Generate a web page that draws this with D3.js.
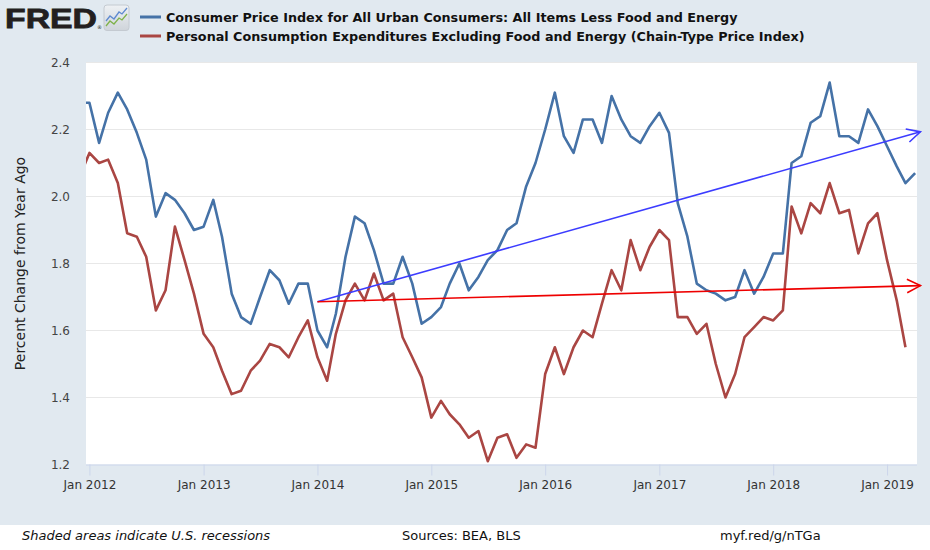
<!DOCTYPE html>
<html><head><meta charset="utf-8">
<script src="https://cdn.jsdelivr.net/npm/d3@7"></script>
<style>
html,body{margin:0;padding:0;background:#fff;}
svg{display:block;font-family:"DejaVu Sans",sans-serif;}
</style></head>
<body>
<svg id="c" width="930" height="550"></svg>
<script>
// ---- data (monthly, first value = Dec 2011) ----
const startMonth = "2011-12-01";
const seriesNames = [
  "Consumer Price Index for All Urban Consumers: All Items Less Food and Energy",
  "Personal Consumption Expenditures Excluding Food and Energy (Chain-Type Price Index)"
];
const cpiValues = [2.28,
  2.28,2.16,2.25,2.31,2.26,2.19,2.11,1.94,2.01,1.99,1.95,1.90,
  1.91,1.99,1.88,1.71,1.64,1.62,1.70,1.78,1.75,1.68,1.74,1.74,
  1.60,1.55,1.65,1.82,1.94,1.92,1.84,1.74,1.74,1.82,1.74,1.62,
  1.64,1.67,1.74,1.80,1.72,1.76,1.81,1.84,1.90,1.92,2.03,2.10,
  2.20,2.31,2.18,2.13,2.23,2.23,2.16,2.30,2.23,2.18,2.16,2.21,
  2.25,2.19,1.98,1.88,1.74,1.72,1.71,1.69,1.70,1.78,1.71,1.76,
  1.83,1.83,2.10,2.12,2.22,2.24,2.34,2.18,2.18,2.16,2.26,2.21,
  2.15,2.09,2.04,2.07];
const pceValues = [2.06,
  2.13,2.10,2.11,2.04,1.89,1.88,1.82,1.66,1.72,1.91,1.81,1.71,
  1.59,1.55,1.48,1.41,1.42,1.48,1.51,1.56,1.55,1.52,1.58,1.63,
  1.52,1.45,1.59,1.69,1.74,1.69,1.77,1.69,1.71,1.58,1.52,1.46,
  1.34,1.39,1.35,1.32,1.28,1.30,1.21,1.28,1.29,1.22,1.26,1.25,
  1.47,1.55,1.47,1.55,1.60,1.58,1.68,1.78,1.72,1.87,1.78,1.85,
  1.90,1.87,1.64,1.64,1.59,1.62,1.50,1.40,1.47,1.58,1.61,1.64,
  1.63,1.66,1.97,1.89,1.98,1.95,2.04,1.95,1.96,1.83,1.92,1.95,
  1.81,1.69,1.55];
// annotation trend arrows: [start date, start value, end date, end value]
const cpiTrend = ["2014-01-01", 1.686, "2019-04-18", 2.193];
const pceTrend = ["2014-01-01", 1.686, "2019-04-18", 1.734];
const yTicks = [1.2,1.4,1.6,1.8,2.0,2.2,2.4];
const xTickYears = [2012,2013,2014,2015,2016,2017,2018,2019];
const yAxisTitle = "Percent Change from Year Ago";
const footerTexts = ["Shaded areas indicate U.S. recessions","Sources: BEA, BLS","myf.red/g/nTGa"];

// ---- drawing ----
const svg = d3.select("#c");
const W = 930, H = 550;
const pl = 86, pr = 917, pt = 62.5, pb = 464.5;
const parse = d3.utcParse("%Y-%m-%d");
const m0 = parse(startMonth);
const toSeries = vals => vals.map((v,i)=>({d:d3.utcMonth.offset(m0,i), v}));
const cpi = toSeries(cpiValues), pce = toSeries(pceValues);

const x = d3.scaleUtc().domain([Date.UTC(2011,11,21), Date.UTC(2019,3,7)]).range([pl,pr]);
const y = d3.scaleLinear().domain([1.2,2.4]).range([pb,pt]);

// backgrounds
svg.append("rect").attr("width",W).attr("height",525).attr("fill","#e1e9f0");
svg.append("rect").attr("y",525).attr("width",W).attr("height",25).attr("fill","#ffffff");
svg.append("rect").attr("x",pl).attr("y",pt).attr("width",pr-pl).attr("height",pb-pt).attr("fill","#ffffff");

// grid
svg.append("g").selectAll("line").data(yTicks.filter(t=>t>1.2)).join("line")
  .attr("x1",pl).attr("x2",pr).attr("y1",d=>y(d)).attr("y2",d=>y(d))
  .attr("stroke","#e8e8e8").attr("stroke-width",1);

// x axis
const xAxis = d3.axisBottom(x)
  .tickValues(xTickYears.map(yr=>new Date(Date.UTC(yr,0,1))))
  .tickFormat(d3.utcFormat("Jan %Y")).tickSize(11).tickPadding(5);
const gx = svg.append("g").attr("transform",`translate(0,${pb})`).call(xAxis);
gx.select(".domain").attr("stroke","#ccd6eb").attr("d",`M${pl},0.5H${pr}`);
gx.selectAll(".tick line").attr("stroke","#ccd6eb");
gx.selectAll("text").attr("fill","#333").attr("font-size","12px").attr("font-family","DejaVu Sans");

// y axis labels
const yAxis = d3.axisLeft(y).tickValues(yTicks).tickFormat(d3.format(".1f")).tickSize(0).tickPadding(16);
const gy = svg.append("g").attr("transform",`translate(${pl},0)`).call(yAxis);
gy.select(".domain").remove();
gy.selectAll("text").attr("fill","#444").attr("font-size","12px").attr("font-family","DejaVu Sans");

svg.append("text").attr("transform",`translate(25,${(pt+pb)/2}) rotate(-90)`)
  .attr("text-anchor","middle").attr("font-size","14px").attr("fill","#222").text(yAxisTitle);

// clip
svg.append("clipPath").attr("id","clip").append("rect")
  .attr("x",pl).attr("y",pt-5).attr("width",pr-pl).attr("height",pb-pt+10);

const line = d3.line().x(d=>x(d.d)).y(d=>y(d.v));
const g = svg.append("g").attr("clip-path","url(#clip)");
g.append("path").datum(pce).attr("d",line).attr("fill","none").attr("stroke","#aa4643").attr("stroke-width",2.6).attr("stroke-linejoin","round");
g.append("path").datum(cpi).attr("d",line).attr("fill","none").attr("stroke","#4572a7").attr("stroke-width",2.6).attr("stroke-linejoin","round");

// trend arrows
function arrow(tr, color){
  const x1=x(parse(tr[0])), y1=y(tr[1]), x2=x(parse(tr[2])), y2=y(tr[3]);
  svg.append("line").attr("x1",x1).attr("y1",y1).attr("x2",x2).attr("y2",y2)
    .attr("stroke",color).attr("stroke-width",1.6);
  const a = Math.atan2(y2-y1,x2-x1), L=15, h=0.47;
  const p = [[x2-L*Math.cos(a-h), y2-L*Math.sin(a-h)],[x2,y2],[x2-L*Math.cos(a+h), y2-L*Math.sin(a+h)]];
  svg.append("path").attr("d",d3.line()(p)).attr("fill","none").attr("stroke",color).attr("stroke-width",1.6);
}
arrow(cpiTrend,"#3c3cff");
arrow(pceTrend,"#ee0000");

// header: FRED logo
const logo = svg.append("g");
logo.append("text").attr("x",5).attr("y",27.5).attr("font-family","Liberation Sans, Arial, sans-serif")
  .attr("font-weight","bold").attr("font-size","28px").attr("fill","#231f20")
  .attr("stroke","#231f20").attr("stroke-width",0.8)
  .attr("textLength",92).attr("lengthAdjust","spacingAndGlyphs").text("FRED");
logo.append("text").attr("x",97).attr("y",29).attr("font-size","5px").attr("fill","#222").text("®");
const grad = svg.append("defs").append("linearGradient").attr("id","lg").attr("x1",0).attr("y1",0).attr("x2",0).attr("y2",1);
grad.append("stop").attr("offset","0").attr("stop-color","#eef1f4");
grad.append("stop").attr("offset","1").attr("stop-color","#cfd4da");
logo.append("rect").attr("x",104).attr("y",5).attr("width",25).attr("height",25.5).attr("rx",3).attr("fill","url(#lg)").attr("stroke","#c4cad1");
logo.append("path").attr("d","M106,21 L110,16 L114,19 L119,12 L122,14 L127,8").attr("fill","none").attr("stroke","#5f8ad0").attr("stroke-width",1.3);
logo.append("path").attr("d","M106,26 L110,21 L114,24 L119,18 L122,20 L127,14").attr("fill","none").attr("stroke","#7fb24a").attr("stroke-width",1.3);

// legend
const legColors = ["#4572a7","#aa4643"];
const leg = svg.append("g");
seriesNames.forEach((n,i)=>{
  const yy = 17 + i*19;
  leg.append("line").attr("x1",140).attr("x2",161).attr("y1",yy).attr("y2",yy).attr("stroke",legColors[i]).attr("stroke-width",3);
  leg.append("text").attr("x",166).attr("y",yy+4.5).attr("font-size","12.75px").attr("font-weight","bold").attr("fill","#111").text(n);
});

// footer
const fy = 540;
svg.append("text").attr("x",22).attr("y",fy).attr("font-size","13px").attr("font-style","italic").attr("fill","#111").text(footerTexts[0]);
svg.append("text").attr("x",402).attr("y",fy).attr("font-size","13px").attr("fill","#111").text(footerTexts[1]);
svg.append("text").attr("x",720).attr("y",fy).attr("font-size","13px").attr("fill","#111").text(footerTexts[2]);
</script>
</body></html>
